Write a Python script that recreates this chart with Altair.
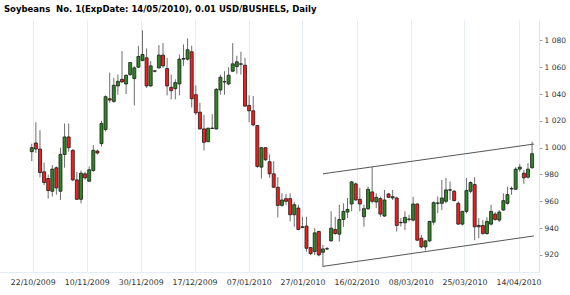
import altair as alt
import pandas as pd

title_text = "Soybeans\u00a0 No. 1(ExpDate: 14/05/2010), 0.01 USD/BUSHELS, Daily"

opens = [997, 1003.5, 999, 982, 977, 967.5, 985, 967.5, 995, 1008,
         998, 976, 961.5, 980.5, 975, 983, 997.5, 1003, 1013.5, 1036.5,
         1034.5, 1046, 1051, 1047.5, 1054.5, 1051.5, 1060, 1065, 1067, 1046,
         1057, 1059.5, 1069, 1059, 1045, 1044, 1047.5, 1066, 1066, 1071.5,
         1039.5, 1026.5, 1014, 1004.5, 1014.3, 1014, 1043, 1049, 1047.5, 1057,
         1060.5, 1062.2, 1061.5, 1031.5, 1027.5, 1016.5, 985.5, 1000, 989.5, 980.5,
         970.5, 957, 962, 962, 950, 955, 940.5, 941.5, 925.5, 922.5,
         937.5, 922, 924.5, 930.5, 939, 935.5, 946.5, 952, 958, 973,
         961.5, 948.5, 954.5, 967, 959.5, 962, 949, 965.5, 962.5, 962.5,
         944, 944, 946.5, 946, 958, 932.5, 926, 930.5, 944.5, 958.5,
         958.5, 960, 968.3, 967.5, 958.5, 943, 952.5, 967.5, 972.5, 941,
         942, 936, 943, 950.5, 946, 953.5, 958.5, 969.2, 969, 984,
         981, 978, 985]
highs = [1003, 1019, 1013, 989, 980, 987, 986, 1000, 1018, 1018,
         999, 982, 983, 982, 986, 1002, 998.5, 1020, 1039, 1056,
         1052, 1054.5, 1072, 1054.5, 1063.5, 1061, 1076, 1087.5, 1074, 1064.5,
         1057.6, 1076.5, 1078, 1067, 1054.5, 1051, 1069.5, 1077, 1081.5, 1076,
         1046.5, 1033.5, 1024.5, 1015, 1025, 1044.5, 1054.5, 1057, 1060, 1078,
         1068.5, 1071.5, 1067, 1039, 1038.5, 1017, 1000.5, 1000.5, 995, 990,
         978, 966, 965.5, 966, 959.5, 957.5, 948.5, 948.5, 926, 940,
         938, 927.5, 926, 952.5, 948.5, 957.5, 958.5, 962.5, 975, 974,
         970, 957.5, 971, 985.5, 966, 963.5, 968.5, 966, 968.5, 963.5,
         947.4, 952.5, 949.9, 963.5, 958.5, 935, 931, 945.5, 960, 963.6,
         976, 977.5, 974.8, 968.5, 960, 953, 977.5, 975, 978, 947.5,
         946, 948, 957.5, 952, 953.5, 966, 971, 971.1, 985.5, 988,
         983.5, 988.5, 1004.5]
lows = [990, 996, 978, 972, 962, 963.5, 965, 961, 985, 997,
        975, 961, 958.5, 976, 974.5, 982, 995, 1001, 1012, 1033.5,
        1033.5, 1039.5, 1048.5, 1040, 1053.5, 1031.5, 1059.5, 1064.5, 1044.5, 1045.5,
        1056, 1059, 1059.5, 1039, 1036, 1036, 1039, 1061, 1065, 1030,
        1024.5, 1013.5, 998, 1004, 1014, 1013.5, 1039.5, 1039.5, 1046.5, 1056.5,
        1055, 1054.5, 1030.5, 1019, 1016, 985, 977, 990, 977.5, 970,
        948, 956, 957.5, 945, 941, 938.5, 940, 922.5, 920, 920,
        919, 911, 923.7, 930, 935, 930, 941, 947.5, 952.5, 960.5,
        952.5, 941, 953.5, 958.5, 955, 948.5, 948.5, 962.5, 961, 937.5,
        941.2, 938.5, 944.9, 945, 930.5, 925, 923.5, 929.5, 942.5, 951.2,
        953.5, 958.5, 961.1, 960, 942.5, 942, 951, 966, 931, 932.5,
        935, 935, 942, 945.5, 944.5, 953, 957.5, 964.9, 968.5, 982,
        973, 977, 984.5]
closes = [1000, 999, 981.5, 974, 968, 984, 970, 995, 1008, 1000,
          976, 961.5, 981, 977.5, 983.5, 998, 996, 1018, 1038, 1035.5,
          1046.5, 1049.5, 1049, 1054, 1063.5, 1059.5, 1068, 1069.5, 1046, 1061,
          1057.3, 1069, 1061, 1046, 1042.5, 1048.5, 1066, 1066.5, 1073, 1036.5,
          1026, 1014, 1004, 1014.5, 1014.6, 1043.5, 1052.5, 1049.3, 1054, 1062.5,
          1064, 1062.5, 1031, 1027.5, 1017, 986, 1000, 991, 980.5, 970.5,
          957, 961, 960, 950, 957.5, 939, 941, 925, 921, 936.5,
          920, 924.5, 924.7, 940, 936, 946.5, 952.5, 954, 974.5, 961,
          958, 954.5, 969, 960, 963, 950.5, 961, 963, 963.5, 942,
          944.3, 948, 946.8, 958, 931, 926, 930.5, 945, 959, 958.8,
          962.5, 968.5, 968.6, 960.5, 943, 952.5, 968, 974, 941, 942,
          936, 945, 952.5, 946.5, 952, 960.5, 965, 969.5, 984, 985.5,
          977.5, 984, 995.5]

tick_labels = ["22/10/2009", "10/11/2009", "30/11/2009", "17/12/2009", "07/01/2010",
               "27/01/2010", "16/02/2010", "08/03/2010", "25/03/2010", "14/04/2010"]
tick_pos = [0.24, 13.4, 26.55, 39.7, 52.9, 66.0, 79.2, 92.4, 105.5, 118.7]
y_ticks = [920, 940, 960, 980, 1000, 1020, 1040, 1060, 1080]

trend_x = [71, 122.47]
trend_upper = [980.5, 1002.7]
trend_lower = [911.5, 934.2]

df = pd.DataFrame({
    "i": list(range(len(opens))),
    "open": opens, "high": highs, "low": lows, "close": closes,
})
df["dir"] = ["up" if c >= o else "down" for o, c in zip(opens, closes)]

tl = pd.DataFrame({
    "i": trend_x + trend_x,
    "v": trend_upper + trend_lower,
    "line": ["upper"] * 2 + ["lower"] * 2,
})

xscale = alt.Scale(domain=[-6.53, 122.47], nice=False, zero=False)
yscale = alt.Scale(domain=[907.3, 1095.2], nice=False, zero=False)

label_arr = "[" + ",".join("'%s'" % s for s in tick_labels) + "]"
pos_arr = "[" + ",".join(str(p) for p in tick_pos) + "]"

xaxis = alt.Axis(values=tick_pos, labelExpr=label_arr + "[indexof(" + pos_arr + ", datum.value)]",
                 grid=True, gridColor="#e4edf5", gridWidth=1, ticks=False,
                 domain=True, domainColor="#e4edf5", title=None,
                 labelFont="DejaVu Sans", labelFontSize=7.8, labelColor="#333333",
                 labelPadding=6, labelFlush=False, labelOverlap=False)
yaxis = alt.Axis(orient="right", values=y_ticks,
                 labelExpr="replace(format(datum.value, ','), ',', ' ')",
                 grid=False, ticks=True, tickSize=3, tickColor="#9a9a9a",
                 domain=True, domainColor="#dde7f0", title=None,
                 labelFont="DejaVu Sans", labelFontSize=7.5, labelColor="#333333",
                 labelPadding=2, labelOverlap=False, labelBound=False, labelFlush=False)

base = alt.Chart(df).encode(x=alt.X("i:Q", scale=xscale, axis=xaxis))

wicks = base.mark_rule(color="#6e6e6e", strokeWidth=1).encode(
    y=alt.Y("low:Q", scale=yscale, axis=yaxis),
    y2="high:Q",
)
bodies = base.mark_bar(size=3.0, stroke="#1a1a1a", strokeWidth=0.8).encode(
    y=alt.Y("open:Q", scale=yscale, axis=yaxis),
    y2="close:Q",
    color=alt.Color("dir:N", scale=alt.Scale(domain=["up", "down"], range=["#2b8a1f", "#ff1a1a"]),
                    legend=None),
)
trend = alt.Chart(tl).mark_line(color="#555555", strokeWidth=1, clip=True).encode(
    x=alt.X("i:Q", scale=xscale, axis=xaxis),
    y=alt.Y("v:Q", scale=yscale, axis=yaxis),
    detail="line:N",
)

chart = alt.layer(wicks, bodies, trend).properties(
    width=539, height=252,
    title=alt.TitleParams(title_text, anchor="start", font="DejaVu Sans", fontSize=8.5,
                          fontWeight="bold", color="#000000", offset=7, dx=4),
    autosize=alt.AutoSizeParams(type="none"),
    padding={"left": 0, "top": 20, "right": 31, "bottom": 23},
    background="white",
).configure_view(stroke=None)

chart.save("out.html", embed_options={"renderer": "svg", "actions": False})
